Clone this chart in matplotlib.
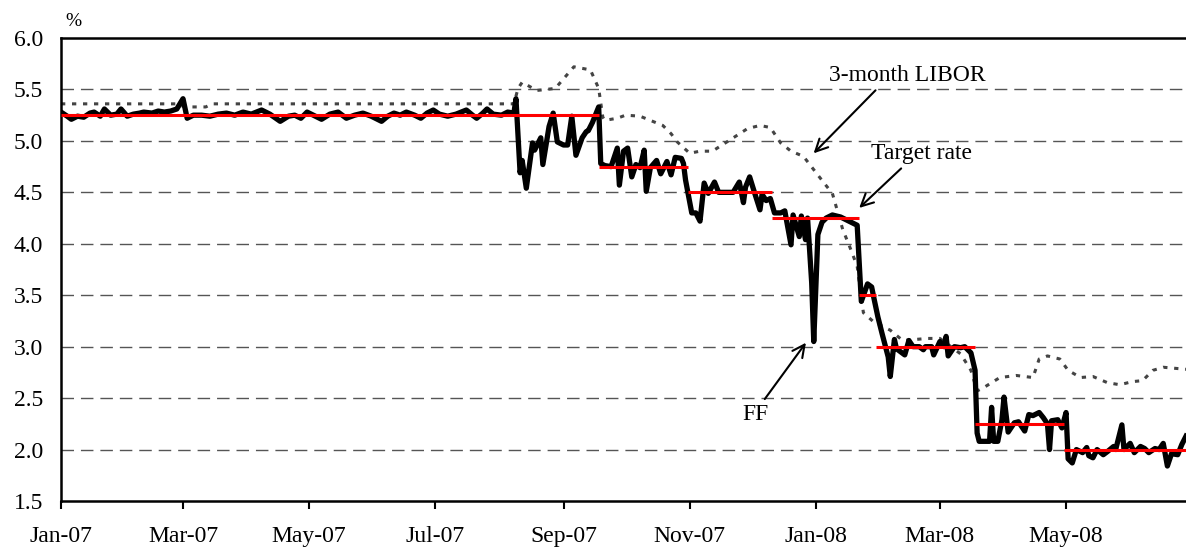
import numpy as np
import matplotlib
matplotlib.use("Agg")
import matplotlib.pyplot as plt
import matplotlib.dates as mdates

plt.rcParams['font.family'] = ['Liberation Serif', 'DejaVu Serif']

# days counted from 2007-01-01
ff_days = [0, 3, 5, 8, 11, 14, 16, 19, 21, 24, 27, 29, 32, 35, 38, 40, 44, 47, 50, 53,
           56, 59, 61, 64, 68, 72, 76, 80, 84, 88, 92, 97, 101, 106, 110, 113, 116, 119,
           123, 126, 130, 134, 138, 142, 146, 150, 155, 158, 161, 164, 167, 171, 174, 177,
           180, 183, 187, 191, 196, 199, 201, 204, 206, 209, 213, 216, 219, 220,
           222, 223, 225, 228, 229, 232, 233, 236, 238, 240, 243, 245, 247, 249, 252, 254,
           255, 257, 260, 261, 263, 266, 269, 270, 272, 274, 276, 278, 280, 282, 283, 285,
           288, 290, 293, 295, 297, 300, 301, 302, 305, 307, 309, 311, 313, 316, 318, 321,
           325, 328, 330, 331, 333, 335, 338, 339, 341, 343, 345, 348, 350, 353, 354, 357,
           358, 360, 361, 363, 364, 366, 368, 370, 373, 377, 380, 383, 385, 386, 387, 390,
           392, 393, 395, 397, 400, 401, 403, 404, 408, 410, 412, 415, 417, 418, 421, 422,
           425, 427, 428, 429, 432, 435, 437, 440, 442, 443, 444, 447, 449, 450, 451, 453,
           455, 456, 458, 461, 463, 466, 468, 470, 473, 475, 477, 478, 479, 482, 484, 486,
           487, 489, 491, 494, 496, 497, 499, 501, 504, 506, 509, 510, 513, 514, 517, 519,
           522, 524, 526, 529, 531, 533, 535, 537, 540, 542, 544]
ff_vals = [5.28, 5.24, 5.21, 5.24, 5.23, 5.27, 5.28, 5.24, 5.31, 5.25, 5.26, 5.31, 5.24,
           5.26, 5.27, 5.28, 5.27, 5.29, 5.28, 5.29, 5.31, 5.41, 5.22, 5.25, 5.25, 5.24,
           5.26, 5.27, 5.25, 5.28, 5.26, 5.30, 5.26, 5.19, 5.24, 5.25, 5.22, 5.28, 5.24,
           5.21, 5.26, 5.28, 5.22, 5.25, 5.27, 5.24, 5.19, 5.24, 5.27, 5.25, 5.28, 5.25,
           5.22, 5.27, 5.30, 5.26, 5.24, 5.26, 5.30, 5.25, 5.22, 5.27, 5.31, 5.26, 5.25,
           5.28, 5.27, 5.41,
           4.69, 4.81, 4.54, 4.98, 4.91, 5.03, 4.77, 5.14, 5.27, 4.99, 4.96, 4.96, 5.24,
           4.86, 5.03, 5.09, 5.10, 5.18, 5.33, 4.78, 4.76, 4.75, 4.93, 4.57, 4.90, 4.93,
           4.65, 4.77, 4.74, 4.91, 4.51, 4.74, 4.81, 4.68, 4.80, 4.67, 4.84, 4.83, 4.78,
           4.62, 4.30, 4.30, 4.22, 4.59, 4.49, 4.60, 4.50, 4.50, 4.50, 4.60, 4.40, 4.55,
           4.65, 4.52, 4.33, 4.48, 4.42, 4.44, 4.30, 4.30, 4.32, 3.99, 4.28, 4.07, 4.27,
           4.04, 4.25, 3.62, 3.05, 4.09, 4.21, 4.25, 4.28, 4.26, 4.23, 4.20, 4.18, 3.81,
           3.44, 3.61, 3.58, 3.48, 3.29, 3.13, 2.90, 2.71, 3.07, 2.98, 2.92, 3.06, 3.00,
           3.00, 2.97, 3.00, 3.00, 2.92, 3.05, 3.00, 3.10, 2.91, 3.00, 2.99, 3.00, 2.94,
           2.77, 2.16, 2.08, 2.08, 2.08, 2.41, 2.08, 2.08, 2.29, 2.51, 2.17, 2.26, 2.27,
           2.18, 2.34, 2.33, 2.36, 2.31, 2.25, 2.00, 2.28, 2.29, 2.21, 2.36, 1.91, 1.87,
           2.00, 1.97, 2.02, 1.94, 1.92, 2.00, 1.95, 1.98, 2.03, 2.00, 2.24, 2.00, 2.06,
           1.97, 2.03, 2.01, 1.97, 2.01, 2.00, 2.06, 1.84, 1.96, 1.95, 2.05, 2.13]

libor_days = [0, 56, 60, 70, 73, 219, 221, 223, 230, 239, 248, 256, 260, 262, 263, 269,
              273, 280, 291, 295, 298, 304, 309, 315, 322, 332, 338, 343, 348, 353, 359,
              364, 369, 373, 375, 378, 382, 385, 388, 393, 401, 407, 419, 425, 435, 440,
              443, 446, 454, 462, 470, 473, 477, 483, 487, 493, 499, 506, 512, 518, 523,
              528, 533, 544]
libor_vals = [5.36, 5.36, 5.33, 5.33, 5.36, 5.36, 5.51, 5.57, 5.49, 5.51, 5.72, 5.69,
              5.51, 5.23, 5.20, 5.22, 5.25, 5.24, 5.15, 5.07, 4.99, 4.88, 4.90, 4.90,
              4.99, 5.12, 5.15, 5.13, 4.98, 4.90, 4.85, 4.72, 4.59, 4.49, 4.35, 4.14,
              3.94, 3.78, 3.33, 3.24, 3.16, 3.06, 3.08, 3.08, 2.93, 2.77, 2.57, 2.60,
              2.70, 2.72, 2.70, 2.88, 2.91, 2.88, 2.77, 2.70, 2.71, 2.65, 2.63, 2.66,
              2.67, 2.77, 2.80, 2.78]

target_start = ['2007-01-01', '2007-09-18', '2007-10-31', '2007-12-11',
                '2008-01-22', '2008-01-30', '2008-03-18', '2008-04-30']
target_end = ['2007-09-18', '2007-10-31', '2007-12-11', '2008-01-22',
              '2008-01-30', '2008-03-18', '2008-04-30', '2008-06-28']
target_vals = [5.25, 4.75, 4.50, 4.25, 3.50, 3.00, 2.25, 2.00]

base = np.datetime64('2007-01-01')
ff_x = base + np.array(ff_days).astype('timedelta64[D]')
libor_x = base + np.array(libor_days).astype('timedelta64[D]')

fig = plt.figure(figsize=(11.86, 5.5), dpi=100)
ax = fig.add_axes([61 / 1186, 49 / 550, 1125 / 1186, 463 / 550])

ax.plot(libor_x, libor_vals, color='#444444', lw=2.2, linestyle=(0, (1.4, 2.2)), zorder=2)
ax.plot(ff_x, ff_vals, color='black', lw=3.8, solid_joinstyle='round', zorder=3)
ax.hlines(target_vals, np.array(target_start, dtype='datetime64[D]'),
          np.array(target_end, dtype='datetime64[D]'), color='#ff0000', lw=2.2, zorder=4)

ax.set_ylim(1.5, 6.0)
ax.set_yticks(np.arange(1.5, 6.01, 0.5))
ax.yaxis.set_major_formatter(matplotlib.ticker.FormatStrFormatter('%.1f'))
ax.set_xlim(np.datetime64('2007-01-01'), np.datetime64('2008-06-28'))
ax.xaxis.set_major_locator(mdates.MonthLocator(bymonth=[1, 3, 5, 7, 9, 11]))
ax.xaxis.set_major_formatter(mdates.DateFormatter('%b-%y'))

for y in np.arange(2.0, 5.51, 0.5):
    ax.axhline(y, color='#555555', lw=1.0, linestyle=(0, (9, 5)), zorder=1)

ax.tick_params(axis='y', length=0, pad=13, labelsize=17)
ax.tick_params(axis='x', direction='out', length=6, width=1.5, pad=12, labelsize=17)
for side in ['left', 'bottom', 'top']:
    ax.spines[side].set_linewidth(1.8)
ax.spines['right'].set_visible(False)

arrow = dict(arrowstyle='->', color='black', lw=1.5, mutation_scale=22)
ax.annotate('3-month LIBOR', xy=(np.datetime64('2007-12-30'), 4.86),
            xytext=(np.datetime64('2008-02-14'), 5.64), ha='center', va='center',
            fontsize=17, arrowprops=dict(arrow, relpos=(0.33, 0.0)))
ax.annotate('Target rate', xy=(np.datetime64('2008-01-21'), 4.33),
            xytext=(np.datetime64('2008-02-21'), 4.88), ha='center', va='center',
            fontsize=17, arrowprops=dict(arrow, relpos=(0.35, 0.0)))
ax.annotate('FF', xy=(np.datetime64('2007-12-28'), 3.06),
            xytext=(np.datetime64('2007-12-03'), 2.34), ha='center', va='center',
            fontsize=17, arrowprops=dict(arrow, relpos=(0.7, 1.0)))

fig.text(65 / 1186, 1 - 22 / 550, '%', ha='left', va='center', fontsize=14)

fig.savefig('out.png', dpi=100)
